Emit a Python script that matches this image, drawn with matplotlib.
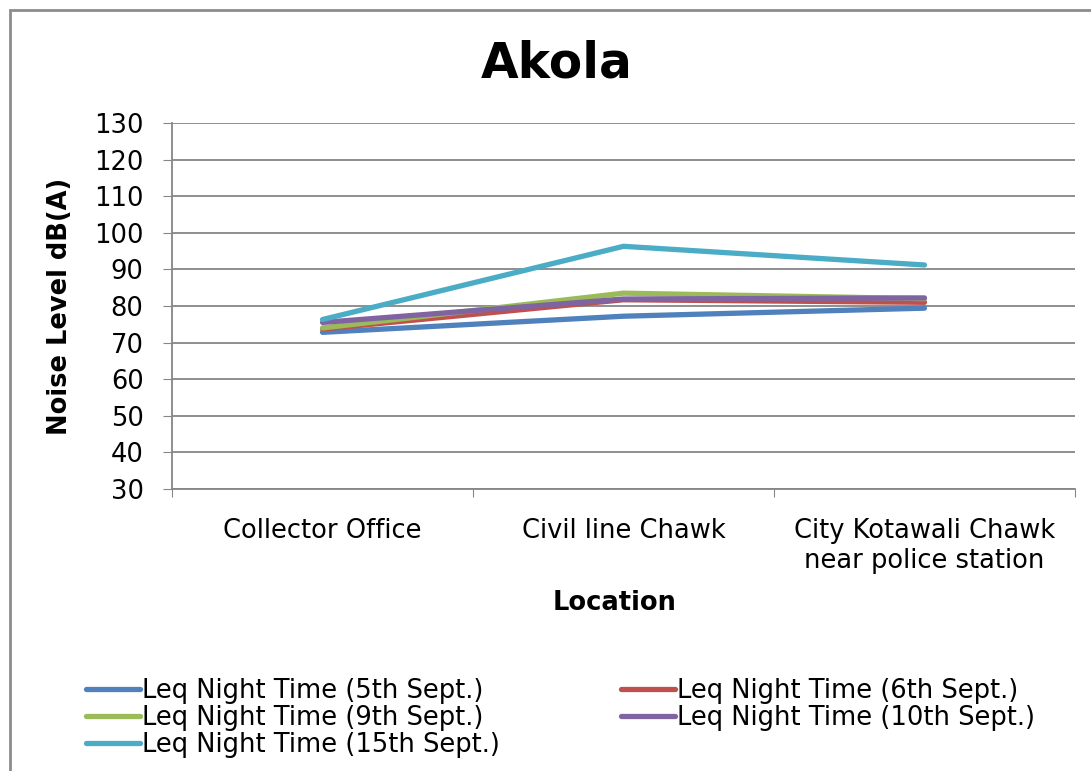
import matplotlib
matplotlib.use("Agg")
import matplotlib.pyplot as plt
from matplotlib.patches import Rectangle

# Data
locations = ["Collector Office", "Civil line Chawk", "City Kotawali Chawk\nnear police station"]
series_names = [
    "Leq Night Time (5th Sept.)",
    "Leq Night Time (6th Sept.)",
    "Leq Night Time (9th Sept.)",
    "Leq Night Time (10th Sept.)",
    "Leq Night Time (15th Sept.)",
]
sept5 = [72.8, 77.2, 79.4]
sept6 = [73.7, 81.7, 81.0]
sept9 = [74.0, 83.5, 82.0]
sept10 = [75.5, 81.9, 82.2]
sept15 = [76.3, 96.3, 91.2]
y_ticks = list(range(30, 131, 10))

colors = ["#4F81BD", "#C0504D", "#9BBB59", "#8064A2", "#4BACC6"]
series = [sept5, sept6, sept9, sept10, sept15]

plt.rcParams['font.family'] = ['DejaVu Sans']
FS = 18.5

fig = plt.figure(figsize=(10.91, 7.71), dpi=100)
ax = fig.add_axes([0.1577, 0.3658, 0.8276, 0.4747])

# outer chart frame
fig.patches.append(Rectangle((10 / 1091, -0.05), 1.1, 1 - 10 / 771 + 0.05,
                             transform=fig.transFigure, fill=False,
                             edgecolor="#8c8c8c", linewidth=2))

x = list(range(len(locations)))
handles = []
for vals, name, c in zip(series, series_names, colors):
    h, = ax.plot(x, vals, color=c, linewidth=3.8, label=name, solid_capstyle="round")
    handles.append(h)

ax.set_ylim(30, 130)
ax.set_yticks(y_ticks)
ax.tick_params(axis="y", labelsize=FS, length=6.5, color="#868686", pad=14)
ax.yaxis.grid(True, color="#868686", linewidth=1.3)
ax.set_axisbelow(True)

ax.set_xlim(-0.5, 2.5)
ax.set_xticks([-0.5, 0.5, 1.5, 2.5])
ax.set_xticklabels([])
ax.set_xticks(x, minor=True)
ax.set_xticklabels(locations, minor=True, fontsize=FS)
ax.tick_params(axis="x", which="major", length=6, color="#868686")
ax.tick_params(axis="x", which="minor", length=0, pad=21)

for s in ["top", "right"]:
    ax.spines[s].set_visible(False)
for s in ["left", "bottom"]:
    ax.spines[s].set_color("#868686")
    ax.spines[s].set_linewidth(1.3)

ax.set_xlabel("Location", fontsize=FS, fontweight="bold")
ax.xaxis.set_label_coords(0.49, -0.275)
ax.set_ylabel("Noise Level dB(A)", fontsize=FS, fontweight="bold")
ax.yaxis.set_label_coords(-0.11, 0.5)
fig.text(0.51, 0.917, "Akola", ha="center", va="center", fontsize=35, fontweight="bold")

# legend reads row-wise in the reference, matplotlib fills column-wise
order = [0, 2, 4, 1, 3]
fig.legend([handles[i] for i in order], [series_names[i] for i in order],
           ncol=2, loc="center left", bbox_to_anchor=(0.069, 0.069),
           frameon=False, fontsize=FS, handlelength=2.1, handletextpad=0.1,
           columnspacing=4.7, labelspacing=0.05, borderaxespad=0)

fig.savefig("out.png", dpi=100)
